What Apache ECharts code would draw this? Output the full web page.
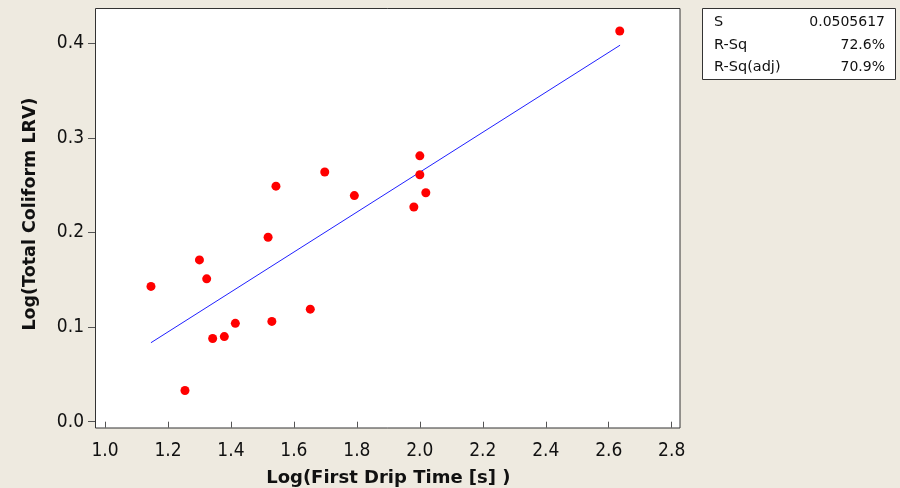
<!DOCTYPE html>
<html>
<head>
<meta charset="utf-8">
<script src="https://cdn.jsdelivr.net/npm/echarts@6/dist/echarts.min.js"></script>
<style>
html,body{margin:0;padding:0;background:#EEEAE0;}
#chart{width:900px;height:488px;}
</style>
</head>
<body>
<div id="chart"></div>
<script>
// Data
var xValues = [1.146, 1.254, 1.300, 1.323, 1.342, 1.379, 1.414, 1.518, 1.530, 1.543, 1.652, 1.698, 1.792, 1.981, 2.000, 2.000, 2.019, 2.635];
var yValues = [0.143, 0.033, 0.171, 0.151, 0.088, 0.090, 0.104, 0.195, 0.106, 0.249, 0.119, 0.264, 0.239, 0.227, 0.281, 0.261, 0.242, 0.413];
var fitX = [1.146, 2.636];
var fitY = [0.0835, 0.398];
var xTicks = [1.0, 1.2, 1.4, 1.6, 1.8, 2.0, 2.2, 2.4, 2.6, 2.8];
var yTicks = [0.0, 0.1, 0.2, 0.3, 0.4];
var statLabels = ['S', 'R-Sq', 'R-Sq(adj)'];
var statValues = ['0.0505617', '72.6%', '70.9%'];
var xTitle = 'Log(First Drip Time [s] )';
var yTitle = 'Log(Total Coliform LRV)';

var FONT_C = '"DejaVu Sans Condensed", "DejaVu Sans", sans-serif';
var FONT = '"DejaVu Sans", sans-serif';

var scatterData = xValues.map(function (x, i) { return [x, yValues[i]]; });
var fitData = fitX.map(function (x, i) { return [x, fitY[i]]; });

var chart = echarts.init(document.getElementById('chart'), null, {renderer: 'canvas'});

var statElements = [{
  type: 'rect',
  shape: {x: 702.5, y: 8.5, width: 193, height: 71},
  style: {fill: '#ffffff', stroke: '#333333', lineWidth: 1}
}];
statLabels.forEach(function (lab, i) {
  statElements.push({
    type: 'text', x: 714, y: 22.5 + i * 22.5,
    style: {text: lab, fill: '#111111', font: '14.5px ' + FONT, textVerticalAlign: 'middle', textAlign: 'left'}
  });
  statElements.push({
    type: 'text', x: 885, y: 22.5 + i * 22.5,
    style: {text: statValues[i], fill: '#111111', font: '14px ' + FONT, textVerticalAlign: 'middle', textAlign: 'right'}
  });
});

var option = {
  backgroundColor: '#EEEAE0',
  animation: false,
  grid: {left: 105, right: 228.3, top: 43.3, bottom: 66.3, containLabel: false, outerBoundsMode: 'none'},
  graphic: [{
    type: 'rect', z: -10,
    shape: {x: 95.5, y: 8.5, width: 584.5, height: 419.5},
    style: {fill: '#ffffff', stroke: '#333333', lineWidth: 1}
  }, {
    type: 'text', x: 30, y: 214, rotation: Math.PI / 2,
    style: {text: yTitle, fill: '#111111', font: 'bold 17.5px ' + FONT, textAlign: 'center', textVerticalAlign: 'middle'}
  }].concat(statElements),
  xAxis: {
    type: 'value', min: 1.0, max: 2.8, interval: 0.2, offset: 6.3,
    axisLine: {show: false},
    axisTick: {show: true, length: 6, lineStyle: {color: '#555555'}},
    splitLine: {show: false},
    axisLabel: {
      color: '#111111', fontSize: 19, fontFamily: FONT_C, margin: 14,
      formatter: function (v) { return v.toFixed(1); }
    },
    name: xTitle, nameLocation: 'middle', nameGap: 41,
    nameTextStyle: {color: '#111111', fontSize: 18, fontWeight: 'bold', fontFamily: FONT}
  },
  yAxis: {
    type: 'value', min: 0, max: 0.4, interval: 0.1, offset: 10,
    axisLine: {show: false},
    axisTick: {show: true, length: 7, lineStyle: {color: '#555555'}},
    splitLine: {show: false},
    axisLabel: {
      color: '#111111', fontSize: 19, fontFamily: FONT_C, margin: 11,
      formatter: function (v) { return v.toFixed(1); }
    }
  },
  series: [{
    type: 'line', data: fitData, showSymbol: false, symbol: 'none', clip: false,
    lineStyle: {color: '#2020ff', width: 1}, z: 2
  }, {
    type: 'scatter', data: scatterData, symbol: 'circle', symbolSize: 9, clip: false,
    itemStyle: {color: '#ff0000', opacity: 1}, z: 3
  }]
};
chart.setOption(option);
</script>
</body>
</html>
